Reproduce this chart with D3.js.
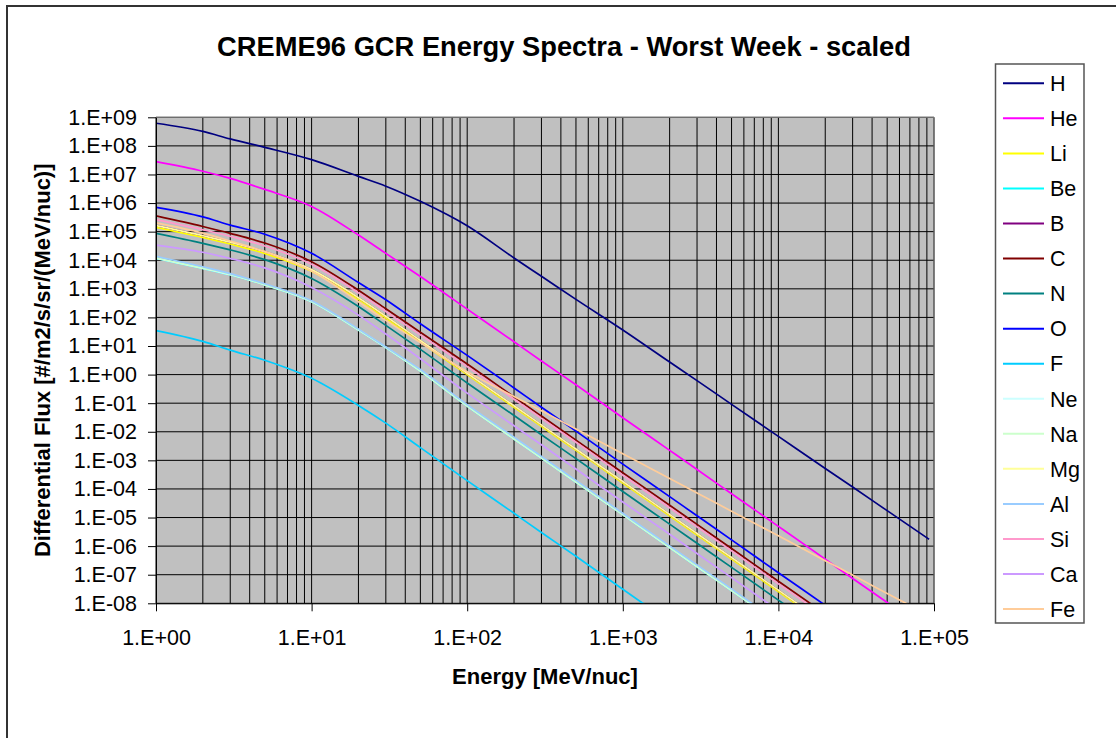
<!DOCTYPE html>
<html>
<head>
<meta charset="utf-8">
<script src="https://cdnjs.cloudflare.com/ajax/libs/d3/7.8.5/d3.min.js"></script>
<style>
    body { margin: 0; background: #fff; }
    svg text { font-family: "Liberation Sans", Arial, sans-serif; fill: #000; }
    .axis-title { font-weight: bold; font-size: 22px; }
    .tick-label { font-size: 21.5px; }
    .legend-label { font-size: 21.5px; }
</style>
</head>
<body>
<svg id="chart"></svg>
<script>
// energies (MeV/nuc) shared by all series
const energies = [1, 2, 3, 5, 10, 20, 30, 50, 100, 200, 300, 500, 1000, 2000, 3000, 5000, 10000, 20000, 30000, 50000, 93000];

const elements = ['H', 'He', 'Li', 'Be', 'B', 'C', 'N', 'O', 'F', 'Ne', 'Na', 'Mg', 'Al', 'Si', 'Ca', 'Fe'];

// differential flux, #/m2/s/sr/(MeV/nuc)
const fluxH  = [6.2e8, 3.2e8, 1.75e8, 8.9e7, 3.3e7, 8.6e6, 3.9e6, 1.15e6, 1.6e5, 1.2e4, 2.75e3, 427, 36.3, 2.75, 0.617, 0.0912, 6.9e-3, 5.2e-4, 1.17e-4, 1.74e-5, 1.74e-6];
const fluxHe = [2.82e7, 1.3e7, 7.3e6, 3.0e6, 7.6e5, 7.6e4, 1.74e4, 2.7e3, 195, 14.1, 3.0, 0.44, 0.031, 2.24e-3, 4.8e-4, 6.8e-5, 4.9e-6, 3.5e-7, 7.4e-8, 1.07e-8, 1.0e-9];
const fluxLi = [1.41e5, 6.3e4, 3.7e4, 1.74e4, 4.1e3, 427, 95, 13.8, 1.0, 0.072, 0.0155, 2.24e-3, 1.62e-4, 1.15e-5, 2.45e-6, 3.5e-7, 2.6e-8, 1.8e-9];
const fluxBe = [1.17e4, 5.2e3, 3.1e3, 1.38e3, 355, 36.3, 8.9, 1.32, 0.079, 5.6e-3, 1.2e-3, 1.74e-4, 1.26e-5, 8.9e-7, 1.9e-7, 2.8e-8, 2.0e-9];
const fluxB  = [1.62e5, 7.2e4, 4.3e4, 2.0e4, 4.7e3, 490, 110, 15.5, 1.12, 0.081, 0.0174, 2.5e-3, 1.82e-4, 1.29e-5, 2.75e-6, 4.0e-7, 2.9e-8, 2.0e-9];
const fluxC  = [3.55e5, 1.51e5, 8.7e4, 4.0e4, 8.9e3, 891, 200, 30.2, 2.34, 0.166, 0.0355, 5.1e-3, 3.7e-4, 2.7e-5, 5.75e-6, 8.3e-7, 5.9e-8, 4.3e-9];
const fluxN  = [8.7e4, 3.9e4, 2.3e4, 1.05e4, 2.3e3, 240, 52.5, 7.6, 0.51, 0.037, 7.9e-3, 1.15e-3, 8.1e-5, 5.9e-6, 1.26e-6, 1.8e-7, 1.29e-8, 9.3e-10];
const fluxO  = [7.1e5, 3.3e5, 1.7e5, 8.1e4, 1.74e4, 1.66e3, 417, 60, 4.7, 0.34, 0.072, 0.0105, 7.4e-4, 5.4e-5, 1.15e-5, 1.66e-6, 1.17e-7, 8.5e-9, 1.8e-9];
const fluxF  = [34.7, 14.5, 7.2, 3.16, 0.74, 0.083, 0.02, 2.8e-3, 1.95e-4, 1.41e-5, 3.0e-6, 4.4e-7, 3.1e-8, 2.2e-9];
const fluxNe = [1.17e4, 5.2e3, 3.1e3, 1.38e3, 355, 36.3, 8.9, 1.32, 0.079, 5.6e-3, 1.2e-3, 1.74e-4, 1.26e-5, 8.9e-7, 1.9e-7, 2.8e-8, 2.0e-9];
const fluxNa = [1.2e4, 5.3e3, 3.2e3, 1.4e3, 360, 37, 9.0, 1.35, 0.081, 5.7e-3, 1.22e-3, 1.77e-4, 1.28e-5, 9.1e-7, 1.95e-7, 2.85e-8, 2.05e-9];
const fluxMg = [1.62e5, 7.2e4, 4.3e4, 2.0e4, 4.7e3, 490, 110, 15.5, 1.12, 0.081, 0.0174, 2.5e-3, 1.82e-4, 1.29e-5, 2.75e-6, 4.0e-7, 2.9e-8, 2.0e-9];
const fluxAl = [1.38e4, 5.9e3, 3.4e3, 1.5e3, 380, 38.9, 9.3, 1.5, 0.089, 6.5e-3, 1.38e-3, 2.0e-4, 1.41e-5, 1.02e-6, 2.2e-7, 3.2e-8, 2.2e-9];
const fluxSi = [2.63e5, 1.17e5, 6.9e4, 3.16e4, 7.2e3, 724, 162, 24.5, 1.9, 0.138, 0.0295, 4.3e-3, 3.0e-4, 2.2e-5, 4.7e-6, 6.8e-7, 4.8e-8, 3.5e-9];
const fluxCa = [3.4e4, 1.9e4, 1.15e4, 5.4e3, 1.12e3, 120, 26.3, 3.6, 0.224, 0.0162, 3.5e-3, 5.0e-4, 3.5e-5, 2.6e-6, 5.5e-7, 7.9e-8, 5.6e-9];
const fluxFe = [2.04e5, 8.9e4, 4.7e4, 2.0e4, 4.2e3, 355, 79, 13.2, 1.26, 0.17, 0.054, 0.0126, 1.7e-3, 2.3e-4, 7.2e-5, 1.66e-5, 2.3e-6, 3.1e-7, 9.8e-8, 2.2e-8, 3.8e-9];

const xTicks = [1, 10, 100, 1000, 10000, 100000];
const yTicks = [1e-8, 1e-7, 1e-6, 1e-5, 1e-4, 1e-3, 1e-2, 1e-1, 1, 1e1, 1e2, 1e3, 1e4, 1e5, 1e6, 1e7, 1e8, 1e9];

// excel default line palette
const lineColors = ['#000080', '#ff00ff', '#ffff00', '#00ffff', '#800080', '#800000', '#008080', '#0000ff',
                    '#00ccff', '#ccffff', '#ccffcc', '#ffff99', '#99ccff', '#ff99cc', '#cc99ff', '#ffcc99'];

const fluxes = [fluxH, fluxHe, fluxLi, fluxBe, fluxB, fluxC, fluxN, fluxO, fluxF, fluxNe, fluxNa, fluxMg, fluxAl, fluxSi, fluxCa, fluxFe];

class SpectraChart {

    constructor(_config) {
        this.config = {
            parentElement: _config.parentElement,
            containerWidth: 1116,
            containerHeight: 738,
            margin: { top: 117.3, left: 156, right: 182, bottom: 134.7 }
        };
        this.series = elements.map((name, i) => ({
            name: name,
            color: lineColors[i],
            values: fluxes[i].map((f, j) => ({ e: energies[j], f: f }))
        }));
        this.initVis();
    }

    initVis() {
        let vis = this;

        vis.width = vis.config.containerWidth - vis.config.margin.left - vis.config.margin.right;
        vis.height = vis.config.containerHeight - vis.config.margin.top - vis.config.margin.bottom;

        vis.svg = d3.select(vis.config.parentElement)
            .attr('width', vis.config.containerWidth)
            .attr('height', vis.config.containerHeight);

        // chart area border, runs off the right and bottom of the picture
        vis.svg.append('rect')
            .attr('x', 7)
            .attr('y', 6)
            .attr('width', 1300)
            .attr('height', 900)
            .attr('fill', '#fff')
            .attr('stroke', '#333')
            .attr('stroke-width', 2);

        vis.chart = vis.svg.append('g')
            .attr('transform', `translate(${vis.config.margin.left}, ${vis.config.margin.top})`);

        vis.xScale = d3.scaleLog()
            .domain([1, 1e5])
            .range([0, vis.width]);

        vis.yScale = d3.scaleLog()
            .domain([1e-8, 1e9])
            .range([vis.height, 0]);

        vis.chart.append('rect')
            .attr('width', vis.width)
            .attr('height', vis.height)
            .attr('fill', '#c0c0c0');

        vis.svg.append('clipPath')
            .attr('id', 'plot-clip')
            .append('rect')
            .attr('width', vis.width)
            .attr('height', vis.height);
    }

    renderVis() {
        let vis = this;

        // vertical gridlines at 1..9 x each decade
        let minorX = [];
        xTicks.slice(0, -1).forEach(d => {
            for (let k = 1; k < 10; k++) minorX.push(d * k);
        });
        minorX.push(1e5);

        vis.chart.selectAll('.vgrid')
            .data(minorX)
            .join('line')
                .attr('class', 'vgrid')
                .attr('x1', d => vis.xScale(d))
                .attr('x2', d => vis.xScale(d))
                .attr('y1', 0)
                .attr('y2', vis.height)
                .attr('stroke', '#000')
                .attr('stroke-width', 1);

        vis.chart.selectAll('.hgrid')
            .data(yTicks)
            .join('line')
                .attr('class', 'hgrid')
                .attr('x1', 0)
                .attr('x2', vis.width)
                .attr('y1', d => vis.yScale(d))
                .attr('y2', d => vis.yScale(d))
                .attr('stroke', '#000')
                .attr('stroke-width', 1);

        // plot area frame (top and right in gray)
        vis.chart.append('path')
            .attr('d', `M0,0H${vis.width}V${vis.height}`)
            .attr('fill', 'none')
            .attr('stroke', '#808080')
            .attr('stroke-width', 1);

        vis.line = d3.line()
            .x(d => vis.xScale(d.e))
            .y(d => vis.yScale(d.f))
            .curve(d3.curveMonotoneX);

        vis.chart.append('g')
            .attr('clip-path', 'url(#plot-clip)')
            .selectAll('.series')
            .data(vis.series)
            .join('path')
                .attr('class', 'series')
                .attr('fill', 'none')
                .attr('stroke', d => d.color)
                .attr('stroke-width', 1.7)
                .attr('stroke-linejoin', 'round')
                .attr('d', d => vis.line(d.values));

        // axes
        const fmt = d => {
            let e = Math.round(Math.log10(d));
            return '1.E' + (e < 0 ? '-' : '+') + String(Math.abs(e)).padStart(2, '0');
        };

        vis.xAxis = d3.axisBottom(vis.xScale)
            .tickValues(xTicks)
            .tickFormat(fmt)
            .tickSizeInner(8)
            .tickSizeOuter(0)
            .tickPadding(18.5);

        vis.yAxis = d3.axisLeft(vis.yScale)
            .tickValues(yTicks)
            .tickFormat(fmt)
            .tickSizeInner(8)
            .tickSizeOuter(0)
            .tickPadding(11);

        vis.xAxisGroup = vis.chart.append('g')
            .attr('class', 'axis x-axis')
            .attr('transform', `translate(0,${vis.height})`)
            .call(vis.xAxis);

        vis.yAxisGroup = vis.chart.append('g')
            .attr('class', 'axis y-axis')
            .call(vis.yAxis);

        vis.svg.selectAll('.axis text')
            .attr('class', 'tick-label')
            .attr('font-family', null)
            .attr('font-size', null);
        vis.svg.selectAll('.axis path, .axis line')
            .attr('stroke', '#000');

        // titles
        vis.svg.append('text')
            .attr('class', 'axis-title')
            .attr('x', 564)
            .attr('y', 56)
            .attr('text-anchor', 'middle')
            .style('font-size', '27.3px')
            .text('CREME96 GCR Energy Spectra - Worst Week - scaled');

        vis.svg.append('text')
            .attr('class', 'axis-title')
            .attr('x', vis.config.margin.left + vis.width / 2)
            .attr('y', 684)
            .attr('text-anchor', 'middle')
            .text('Energy [MeV/nuc]');

        vis.yAxisTitle = vis.svg.append('text')
            .attr('class', 'axis-title')
            .attr('text-anchor', 'middle')
            .attr('x', 50)
            .attr('y', vis.config.margin.top + vis.height / 2)
            .text('Differential Flux [#/m2/s/sr/(MeV/nuc)]');
        vis.yAxisTitle
            .attr('transform', `rotate(270, ${vis.yAxisTitle.attr('x')}, ${vis.yAxisTitle.attr('y')})`);

        // legend
        vis.legend = vis.svg.append('g')
            .attr('transform', 'translate(995.5, 64)');

        vis.legend.append('rect')
            .attr('width', 88.5)
            .attr('height', 559)
            .attr('fill', '#fff')
            .attr('stroke', '#555')
            .attr('stroke-width', 1.5);

        let items = vis.legend.selectAll('.legend-item')
            .data(vis.series)
            .join('g')
                .attr('class', 'legend-item')
                .attr('transform', (d, i) => `translate(0, ${19.3 + i * 35.05})`);

        items.append('line')
            .attr('x1', 7.5)
            .attr('x2', 48.5)
            .attr('stroke', d => d.color)
            .attr('stroke-width', 2);

        items.append('text')
            .attr('class', 'legend-label')
            .attr('x', 54.5)
            .attr('dy', '0.36em')
            .text(d => d.name);
    }
}

let chart = new SpectraChart({ parentElement: '#chart' });
chart.renderVis();
</script>
</body>
</html>
